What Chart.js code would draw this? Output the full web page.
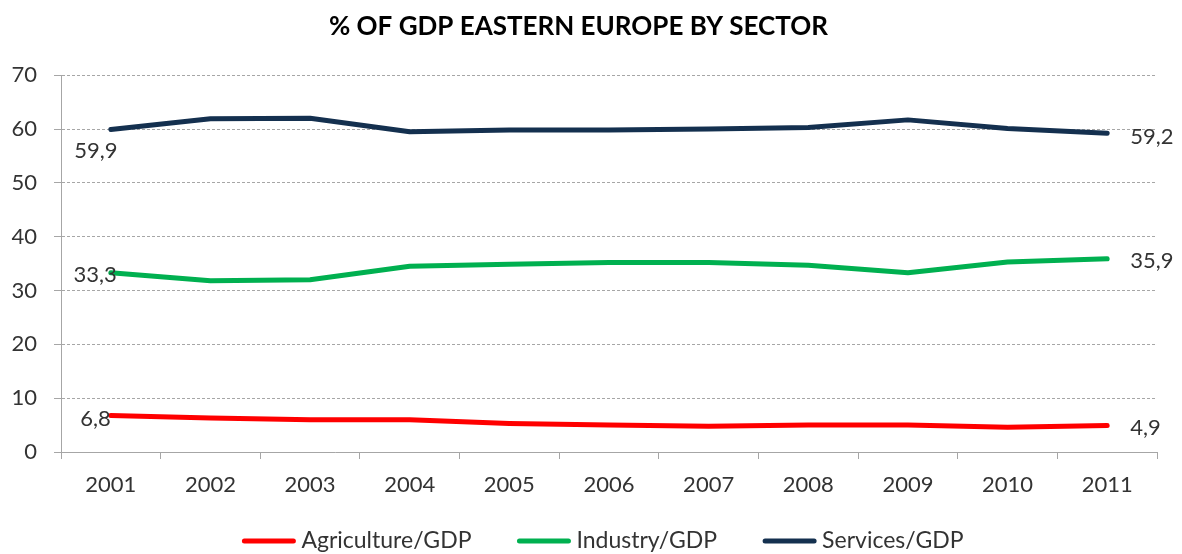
<!DOCTYPE html>
<html>
<head>
<meta charset="utf-8">
<title>% of GDP Eastern Europe by sector</title>
<script src="https://cdn.jsdelivr.net/npm/chart.js@4/dist/chart.umd.min.js"></script>
<style>
  html, body { margin: 0; padding: 0; background: #ffffff; }
  #wrap { width: 1182px; height: 554px; }
</style>
</head>
<body>
<div id="wrap"><canvas id="chart" width="1182" height="554"></canvas></div>
<script>
// Years on the category axis
const years = ['2001', '2002', '2003', '2004', '2005', '2006', '2007', '2008', '2009', '2010', '2011'];

// Sector shares of GDP, in percent
const agriculture = [6.8, 6.3, 6.0, 6.0, 5.3, 5.0, 4.8, 5.0, 5.0, 4.6, 4.9];
const industry    = [33.3, 31.8, 32.0, 34.5, 34.9, 35.2, 35.2, 34.7, 33.3, 35.3, 35.9];
const services    = [59.9, 61.9, 62.0, 59.5, 59.8, 59.8, 60.0, 60.3, 61.7, 60.1, 59.2];

// Value axis ticks
const yTicks = [0, 10, 20, 30, 40, 50, 60, 70];

const seriesNames = ['Agriculture/GDP', 'Industry/GDP', 'Services/GDP'];
const seriesColors = ['#ff0000', '#00b050', '#14304f'];

const FONT = "'Lato', 'Open Sans', sans-serif";
const TEXT = '#333333';
const GRID = '#a6a6a6';

// Where the first / last value of each series is written, relative to its point
const endLabelStyle = [
  { first: { dx: 0,   dy: 4,  align: 'right' },  last: { dx: 23, dy: 2 } },
  { first: { dx: 6,   dy: 2,  align: 'right' },  last: { dx: 23, dy: 2 } },
  { first: { dx: -15, dy: 21, align: 'center' }, last: { dx: 23, dy: 4 } }
];

const fmt = v => v.toFixed(1).replace('.', ',');

// Value labels at both ends of every line
const endLabels = {
  id: 'endLabels',
  afterDatasetsDraw(chart) {
    const ctx = chart.ctx;
    ctx.save();
    ctx.font = '22px ' + FONT;
    ctx.fillStyle = TEXT;
    ctx.textBaseline = 'middle';
    chart.data.datasets.forEach((ds, i) => {
      const pts = chart.getDatasetMeta(i).data;
      const st = endLabelStyle[i];
      const p0 = pts[0], pn = pts[pts.length - 1];
      ctx.textAlign = st.first.align;
      ctx.fillText(fmt(ds.data[0]), p0.x + st.first.dx, p0.y + st.first.dy);
      ctx.textAlign = 'left';
      ctx.fillText(fmt(ds.data[ds.data.length - 1]), pn.x + st.last.dx, pn.y + st.last.dy);
    });
    ctx.restore();
  }
};

// Legend row under the axis: short thick line swatch followed by the series name
const lineLegend = {
  id: 'lineLegend',
  afterDraw(chart) {
    const ctx = chart.ctx;
    const swatch = 53, gapText = 6, gapItem = 46, cy = 541, centerX = 603;
    ctx.save();
    ctx.font = '23px ' + FONT;
    ctx.textBaseline = 'middle';
    ctx.textAlign = 'left';
    const items = chart.data.datasets.map(ds => ({
      text: ds.label, color: ds.borderColor, w: ctx.measureText(ds.label).width
    }));
    const total = items.reduce((s, it) => s + swatch + gapText + it.w, 0) + gapItem * (items.length - 1);
    let x = centerX - total / 2;
    items.forEach(it => {
      ctx.strokeStyle = it.color;
      ctx.lineWidth = 5;
      ctx.lineCap = 'round';
      ctx.beginPath();
      ctx.moveTo(x + 2, cy);
      ctx.lineTo(x + swatch - 2, cy);
      ctx.stroke();
      ctx.fillStyle = TEXT;
      ctx.fillText(it.text, x + swatch + gapText, cy);
      x += swatch + gapText + it.w + gapItem;
    });
    ctx.restore();
  }
};

const seriesData = [agriculture, industry, services];

new Chart(document.getElementById('chart'), {
  type: 'line',
  data: {
    labels: years,
    datasets: seriesData.map((d, i) => ({
      label: seriesNames[i],
      data: d,
      borderColor: seriesColors[i],
      backgroundColor: seriesColors[i],
      borderWidth: 5,
      pointRadius: 0,
      pointHoverRadius: 0,
      tension: 0,
      borderCapStyle: 'round',
      borderJoinStyle: 'round',
      fill: false
    }))
  },
  options: {
    responsive: false,
    animation: false,
    devicePixelRatio: 1,
    layout: { padding: { left: 0, right: 25, top: 0, bottom: 0 } },
    plugins: {
      title: {
        display: true,
        text: '% OF GDP EASTERN EUROPE BY SECTOR',
        color: '#000000',
        font: { family: FONT, size: 26, weight: 'bold' },
        padding: { top: 11, bottom: 33 }
      },
      legend: { display: false },
      tooltip: { enabled: false }
    },
    scales: {
      x: {
        offset: true,
        afterFit(scale) { scale.height = 102; },
        grid: {
          offset: true,
          drawOnChartArea: false,
          drawTicks: true,
          tickLength: 7,
          color: GRID
        },
        border: { display: true, color: GRID, width: 1 },
        ticks: {
          color: TEXT,
          font: { family: FONT, size: 22 },
          padding: 13,
          maxRotation: 0
        }
      },
      y: {
        min: 0,
        max: 70,
        afterBuildTicks(scale) { scale.ticks = yTicks.map(v => ({ value: v })); },
        afterFit(scale) { scale.width = 61; },
        grid: {
          color: GRID,
          lineWidth: 1,
          drawTicks: true,
          tickLength: 7,
          tickBorderDash: [],
          tickColor: GRID
        },
        border: { display: true, color: GRID, width: 1, dash: [3, 2] },
        ticks: {
          color: TEXT,
          font: { family: FONT, size: 22 },
          padding: 17
        }
      }
    }
  },
  plugins: [endLabels, lineLegend]
});
</script>
</body>
</html>
